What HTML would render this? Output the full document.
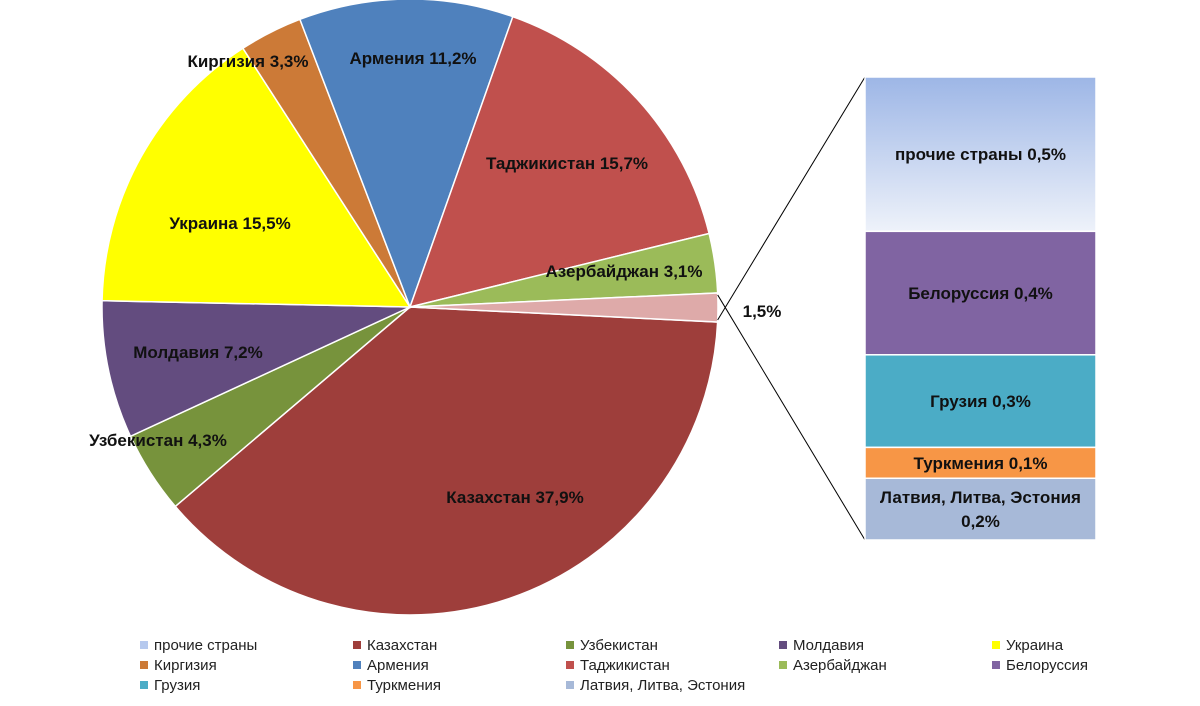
<!DOCTYPE html>
<html><head><meta charset="utf-8"><style>
body{margin:0;background:#fff;}
svg{display:block;font-family:"Liberation Sans",sans-serif;}
.lbl{font-weight:bold;font-size:17px;fill:#111;}
.leg{font-size:15px;fill:#222;}
</style></head><body>
<svg width="1200" height="706">
<defs><linearGradient id="g1" x1="0" y1="0" x2="0" y2="1"><stop offset="0" stop-color="#9db6e6"/><stop offset="1" stop-color="#eef2fa"/></linearGradient></defs>
<g id="pie"></g><g id="bar"></g><g id="legend"></g>
</svg>
<script>
const pieNames=["Казахстан","Узбекистан","Молдавия","Украина","Киргизия","Армения","Таджикистан","Азербайджан","прочие"];
const pieValues=[37.9,4.3,7.2,15.5,3.3,11.2,15.7,3.1,1.5];
const pieLabels=["Казахстан 37,9%","Узбекистан 4,3%","Молдавия 7,2%","Украина 15,5%","Киргизия 3,3%","Армения 11,2%","Таджикистан 15,7%","Азербайджан 3,1%","1,5%"];
const barNames=["прочие страны","Белоруссия","Грузия","Туркмения","Латвия, Литва, Эстония"];
const barValues=[0.5,0.4,0.3,0.1,0.2];
const barLabels=[["прочие страны 0,5%"],["Белоруссия 0,4%"],["Грузия 0,3%"],["Туркмения 0,1%"],["Латвия, Литва, Эстония","0,2%"]];
const pieColors=["#9e3e3b","#77933c","#634c7f","#ffff00","#cc7a37","#4f81bd","#c0504d","#9bbb59","#deaaa9"];
const barColors=["url(#g1)","#8064a2","#4bacc6","#f79646","#a7b9d8"];
const NS="http://www.w3.org/2000/svg";
function mk(t,a,p){const e=document.createElementNS(NS,t);for(const k in a)e.setAttribute(k,a[k]);p.appendChild(e);return e;}
const cx=410,cy=307,R=308;
const total=pieValues.reduce((a,b)=>a+b,0);
const pie=document.getElementById('pie');
let ang=2.8*Math.PI/180;
const labelPos=[[515,497],[158,440],[198,352],[230,223],[248,61],[413,58],[567,163],[624,271],[762,311]];
const otherIdx=pieValues.length-1;let oA0=0,oA1=0;
pieValues.forEach((v,i)=>{
  const a0=ang,a1=ang+v/total*2*Math.PI;ang=a1;
  if(i===otherIdx){oA0=a0;oA1=a1;}
  const p=mk('path',{d:`M${cx},${cy}L${cx+R*Math.cos(a0)},${cy+R*Math.sin(a0)}A${R},${R} 0 ${a1-a0>Math.PI?1:0} 1 ${cx+R*Math.cos(a1)},${cy+R*Math.sin(a1)}Z`,fill:pieColors[i],stroke:'#fff','stroke-width':1.5},pie);
  
  
  const am=(a0+a1)/2;
  const lp=labelPos[i]||[cx+R*0.6*Math.cos(am),cy+R*0.6*Math.sin(am)];
  const t=mk('text',{x:lp[0],y:lp[1]+6,'text-anchor':'middle',class:'lbl'},pie);
  t.textContent=pieLabels[i];
  
  
});
const bar=document.getElementById('bar');
const bx=865,bw=231,by0=77,bh=463;
const bt=barValues.reduce((a,b)=>a+b,0);
mk('line',{x1:cx+R*Math.cos(oA1),y1:cy+R*Math.sin(oA1)-2,x2:bx,y2:by0,stroke:'#000','stroke-width':1},bar);
mk('line',{x1:cx+R*Math.cos(oA0),y1:cy+R*Math.sin(oA0)+2,x2:bx,y2:by0+bh,stroke:'#000','stroke-width':1},bar);
let y=by0;
barValues.forEach((v,i)=>{
  const h=v/bt*bh;
  const r=mk('rect',{x:bx,y:y,width:bw,height:h,fill:barColors[i],stroke:'#fff','stroke-width':1.5},bar);
  
  
  const lines=barLabels[i];
  lines.forEach((s,j)=>{
    const t=mk('text',{x:bx+bw/2,y:y+h/2+6+(j-(lines.length-1)/2)*24,'text-anchor':'middle',class:'lbl'},bar);
    t.textContent=s;
    
    
  });
  y+=h;
});
const leg=document.getElementById('legend');
const legNames=["прочие страны","Казахстан","Узбекистан","Молдавия","Украина","Киргизия","Армения","Таджикистан","Азербайджан","Белоруссия","Грузия","Туркмения","Латвия, Литва, Эстония"];
const legColors=["#b6c9ee","#9e3e3b","#77933c","#634c7f","#ffff00","#cc7a37","#4f81bd","#c0504d","#9bbb59","#8064a2","#4bacc6","#f79646","#a7b9d8"];
legNames.forEach((n,i)=>{
  const col=i%5,row=Math.floor(i/5);
  const x=140+col*213,yy=645+row*20;
  const g=mk('g',{},leg);
  
  
  mk('rect',{x:x,y:yy-4,width:8,height:8,fill:legColors[i]},g);
  const t=mk('text',{x:x+14,y:yy+5,class:'leg'},g);
  t.textContent=n;
});
</script>
</body></html>
